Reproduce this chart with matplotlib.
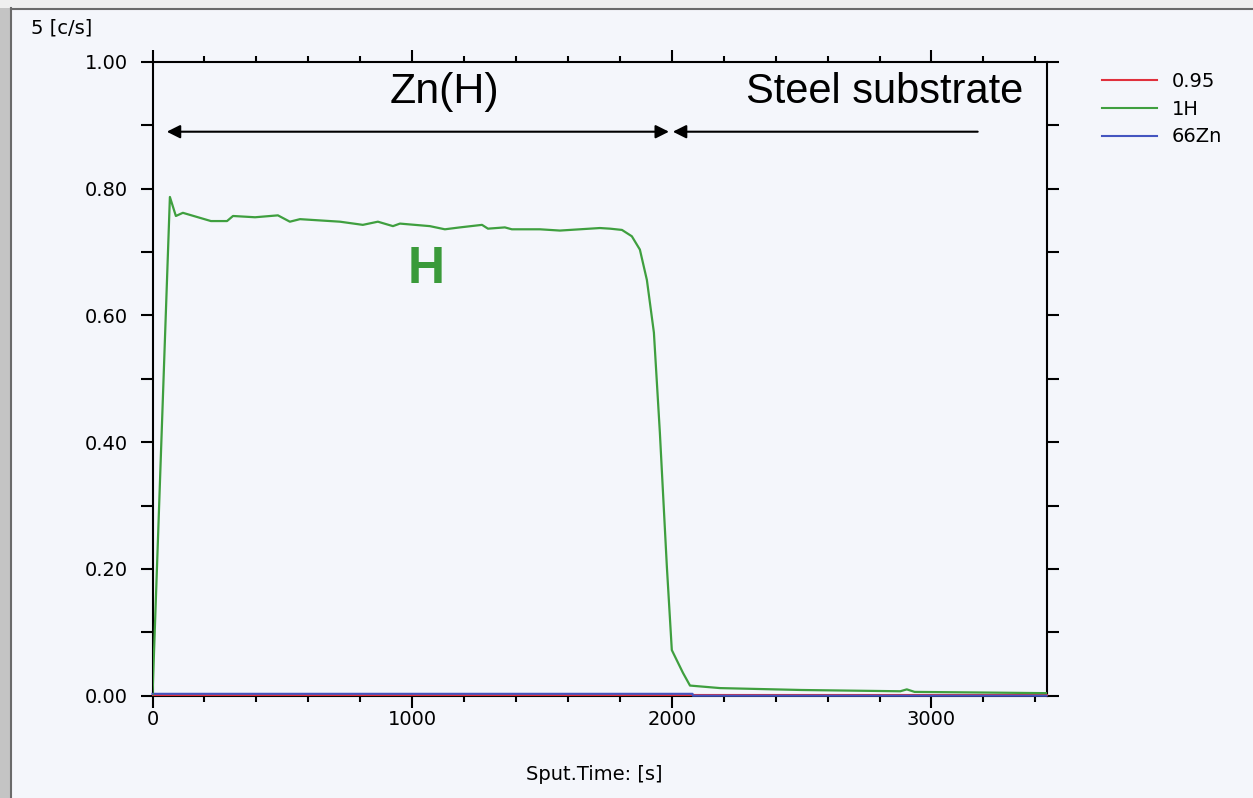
import numpy as np
import matplotlib.pyplot as plt
from matplotlib.patches import Rectangle
from matplotlib.lines import Line2D
from matplotlib.ticker import MultipleLocator, FormatStrFormatter

# GD-OES depth profile, 1H signal through a Zn(H) coating into steel
t_h = [0, 67, 90, 117, 225, 287, 310, 395, 483, 529, 568, 722, 810, 868,
       926, 953, 1068, 1126, 1184, 1269, 1292, 1357, 1384, 1492, 1569, 1646,
       1723, 1762, 1808, 1846, 1877, 1904, 1931, 1954, 1981, 2000, 2043,
       2070, 2186, 2500, 2880, 2905, 2935, 3200, 3443]
h_cps = [0.0, 0.787, 0.757, 0.762, 0.749, 0.749, 0.757, 0.755, 0.758, 0.748,
         0.752, 0.748, 0.743, 0.748, 0.741, 0.745, 0.741, 0.736, 0.739,
         0.743, 0.737, 0.739, 0.736, 0.736, 0.734, 0.736, 0.738, 0.737,
         0.735, 0.725, 0.704, 0.656, 0.573, 0.415, 0.203, 0.072, 0.036,
         0.016, 0.012, 0.009, 0.007, 0.010, 0.006, 0.005, 0.004]

t_base = [0, 2080, 2081, 3443]
c095 = [0.0015, 0.0015, 0.0015, 0.0015]
zn66 = [0.003, 0.003, 0.0, 0.0]

labels = ['0.95', '1H', '66Zn']
colors = ['#e0303c', '#3f9f3f', '#4455c0']

paper = '#f4f6fb'
fig = plt.figure(figsize=(12.53, 7.98), dpi=100, facecolor=paper)

# scanner frame on the top and left edges
W, H = 1253, 798
fig.patches.append(Rectangle((0, 0), 11 / W, 1, transform=fig.transFigure,
                             facecolor='#c4c4c4', edgecolor='none', zorder=0))
fig.patches.append(Rectangle((0, 1 - 8 / H), 1, 8 / H, transform=fig.transFigure,
                             facecolor='#efefef', edgecolor='none', zorder=0))
fig.add_artist(Line2D([11 / W, 11 / W], [0, 1 - 8 / H], transform=fig.transFigure,
                      color='#6a6a6a', lw=1.5))
fig.add_artist(Line2D([11 / W, 1], [1 - 9 / H, 1 - 9 / H], transform=fig.transFigure,
                      color='#6a6a6a', lw=1.5))

ax = fig.add_axes([152.5 / W, 102.3 / H, (1046.5 - 152.5) / W, (695.7 - 62) / H])
ax.set_facecolor(paper)

ax.plot(t_base, c095, color=colors[0], lw=1.5, label=labels[0], zorder=3.5,
        clip_on=False)
ax.plot(t_h, h_cps, color=colors[1], lw=1.6, label=labels[1], zorder=4)
ax.plot(t_base, zn66, color=colors[2], lw=1.5, label=labels[2], zorder=3.6,
        clip_on=False)

ax.set_xlim(0, 3443)
ax.set_ylim(0, 1.0)

fs = 14
tick_font = dict(family='DejaVu Sans', size=fs)
ax.xaxis.set_major_locator(MultipleLocator(1000))
ax.xaxis.set_minor_locator(MultipleLocator(200))
ax.yaxis.set_major_locator(MultipleLocator(0.2))
ax.yaxis.set_minor_locator(MultipleLocator(0.1))
ax.yaxis.set_major_formatter(FormatStrFormatter('%.2f'))

ax.tick_params(axis='both', which='both', direction='out', width=1.5,
               top=True, right=True, color='black', labelsize=fs)
ax.tick_params(axis='x', which='major', length=8.6, pad=2)
ax.tick_params(axis='x', which='minor', length=4.3)
ax.tick_params(axis='y', which='both', length=8.6, pad=9)
for lab in ax.get_xticklabels() + ax.get_yticklabels():
    lab.set_fontfamily('DejaVu Sans')

for s in ax.spines.values():
    s.set_linewidth(1.5)
    s.set_color('black')

fig.text(31 / W, 1 - 28 / H, '5 [c/s]', ha='left', va='center', **tick_font)
fig.text(594 / W, 1 - 774 / H, 'Sput.Time: [s]', ha='center', va='center',
         **tick_font)

# layer annotations
ax.text(1126, 0.952, 'Zn(H)', ha='center', va='center', fontsize=31,
        family='Liberation Sans', color='black')
ax.text(2821, 0.952, 'Steel substrate', ha='center', va='center', fontsize=30,
        family='Liberation Sans', color='black')
ax.annotate('', xy=(55, 0.890), xytext=(1989, 0.890),
            arrowprops=dict(arrowstyle='<|-|>', color='black', lw=1.5,
                            mutation_scale=20, shrinkA=0, shrinkB=0))
ax.annotate('', xy=(2004, 0.890), xytext=(3178, 0.890),
            arrowprops=dict(arrowstyle='-|>', color='black', lw=1.5,
                            mutation_scale=20, shrinkA=0, shrinkB=0))
ax.text(1053, 0.672, 'H', ha='center', va='center', fontsize=37,
        fontweight='bold', family='Liberation Sans', color='#3a9a3a')

leg = ax.legend(loc='upper left', bbox_to_anchor=(1102 / W, 1 - 72 / H),
                bbox_transform=fig.transFigure, frameon=False, borderpad=0,
                borderaxespad=0, handlelength=2.85, handletextpad=0.75,
                labelspacing=0.45, prop=dict(family='DejaVu Sans', size=fs))
for line in leg.get_lines():
    line.set_linewidth(1.5)

fig.savefig('out.png', dpi=100, facecolor=paper)
